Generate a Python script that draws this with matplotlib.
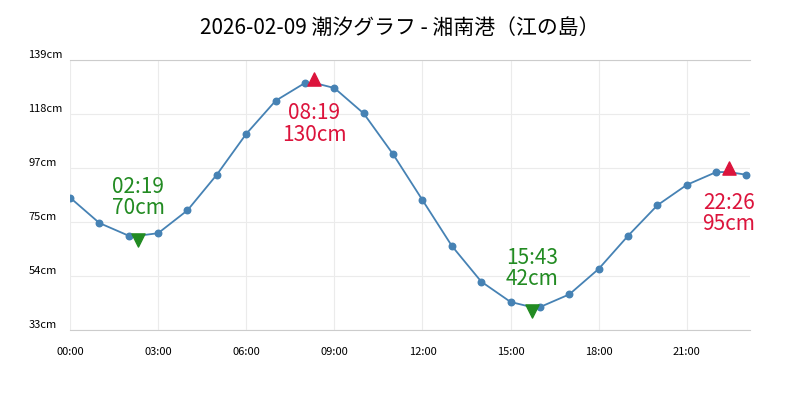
import matplotlib
matplotlib.use("Agg")
import matplotlib.pyplot as plt

plt.rcParams['font.family'] = ['Noto Sans CJK JP', 'DejaVu Sans']

hours = list(range(24))
levels = [85, 75, 70, 71, 80, 94, 110, 123, 130, 128, 118, 102, 84, 66, 52, 44, 42, 47, 57, 70, 82, 90, 95, 94]
ext_hours = [2 + 19/60, 8 + 19/60, 15 + 43/60, 22 + 26/60]
ext_levels = [70, 130, 42, 95]
ext_labels = ["02:19", "08:19", "15:43", "22:26"]
ext_high = [False, True, False, True]
yticks = [33, 54.2, 75.4, 96.6, 117.8, 139]
ytick_labels = ["33cm", "54cm", "75cm", "97cm", "118cm", "139cm"]
xticks = [0, 3, 6, 9, 12, 15, 18, 21]
xtick_labels = ["00:00", "03:00", "06:00", "09:00", "12:00", "15:00", "18:00", "21:00"]

fig = plt.figure(figsize=(8, 4), dpi=100)
ax = fig.add_axes([70/800, 70/400, 680/800, 270/400])

allp = sorted(zip(hours + ext_hours, levels + ext_levels))
ax.plot([p[0] for p in allp], [p[1] for p in allp], color='#4682b4', lw=1.3, zorder=2)
ax.scatter(hours, levels, color='#4682b4', s=22, zorder=3)
for h, v, lab, hi in zip(ext_hours, ext_levels, ext_labels, ext_high):
    col = '#dc143c' if hi else '#228b22'
    ax.scatter([h], [v + (1.5 if hi else -1.5)], marker='^' if hi else 'v', s=90, color=col, zorder=4)
    txt = f"{lab}\n{v}cm"
    if hi:
        ax.annotate(txt, (h, v), xytext=(0, -14), textcoords='offset points', ha='center', va='top',
                    color=col, fontsize=15, linespacing=0.95)
    else:
        ax.annotate(txt, (h, v), xytext=(0, 12), textcoords='offset points', ha='center', va='bottom',
                    color=col, fontsize=15, linespacing=0.95)

ax.set_xlim(0, 23.15)
ax.set_ylim(33, 139)
ax.set_yticks(yticks)
ax.set_yticklabels(ytick_labels, fontsize=8, va='bottom')
ax.set_xticks(xticks)
ax.set_xticklabels(xtick_labels, fontsize=8)
ax.tick_params(length=0, pad=12)
ax.tick_params(axis='y', pad=30)
for t in ax.get_yticklabels():
    t.set_ha('left')
ax.grid(True, color='#ebebeb', lw=0.8)
for s in ['left', 'right']:
    ax.spines[s].set_visible(False)
ax.spines['top'].set_color('#cccccc')
ax.spines['bottom'].set_color('#cccccc')
fig.text(0.5, 0.93, "2026-02-09 潮汐グラフ - 湘南港（江の島）", ha='center', va='center', fontsize=15)
fig.savefig("out.png", dpi=100)
